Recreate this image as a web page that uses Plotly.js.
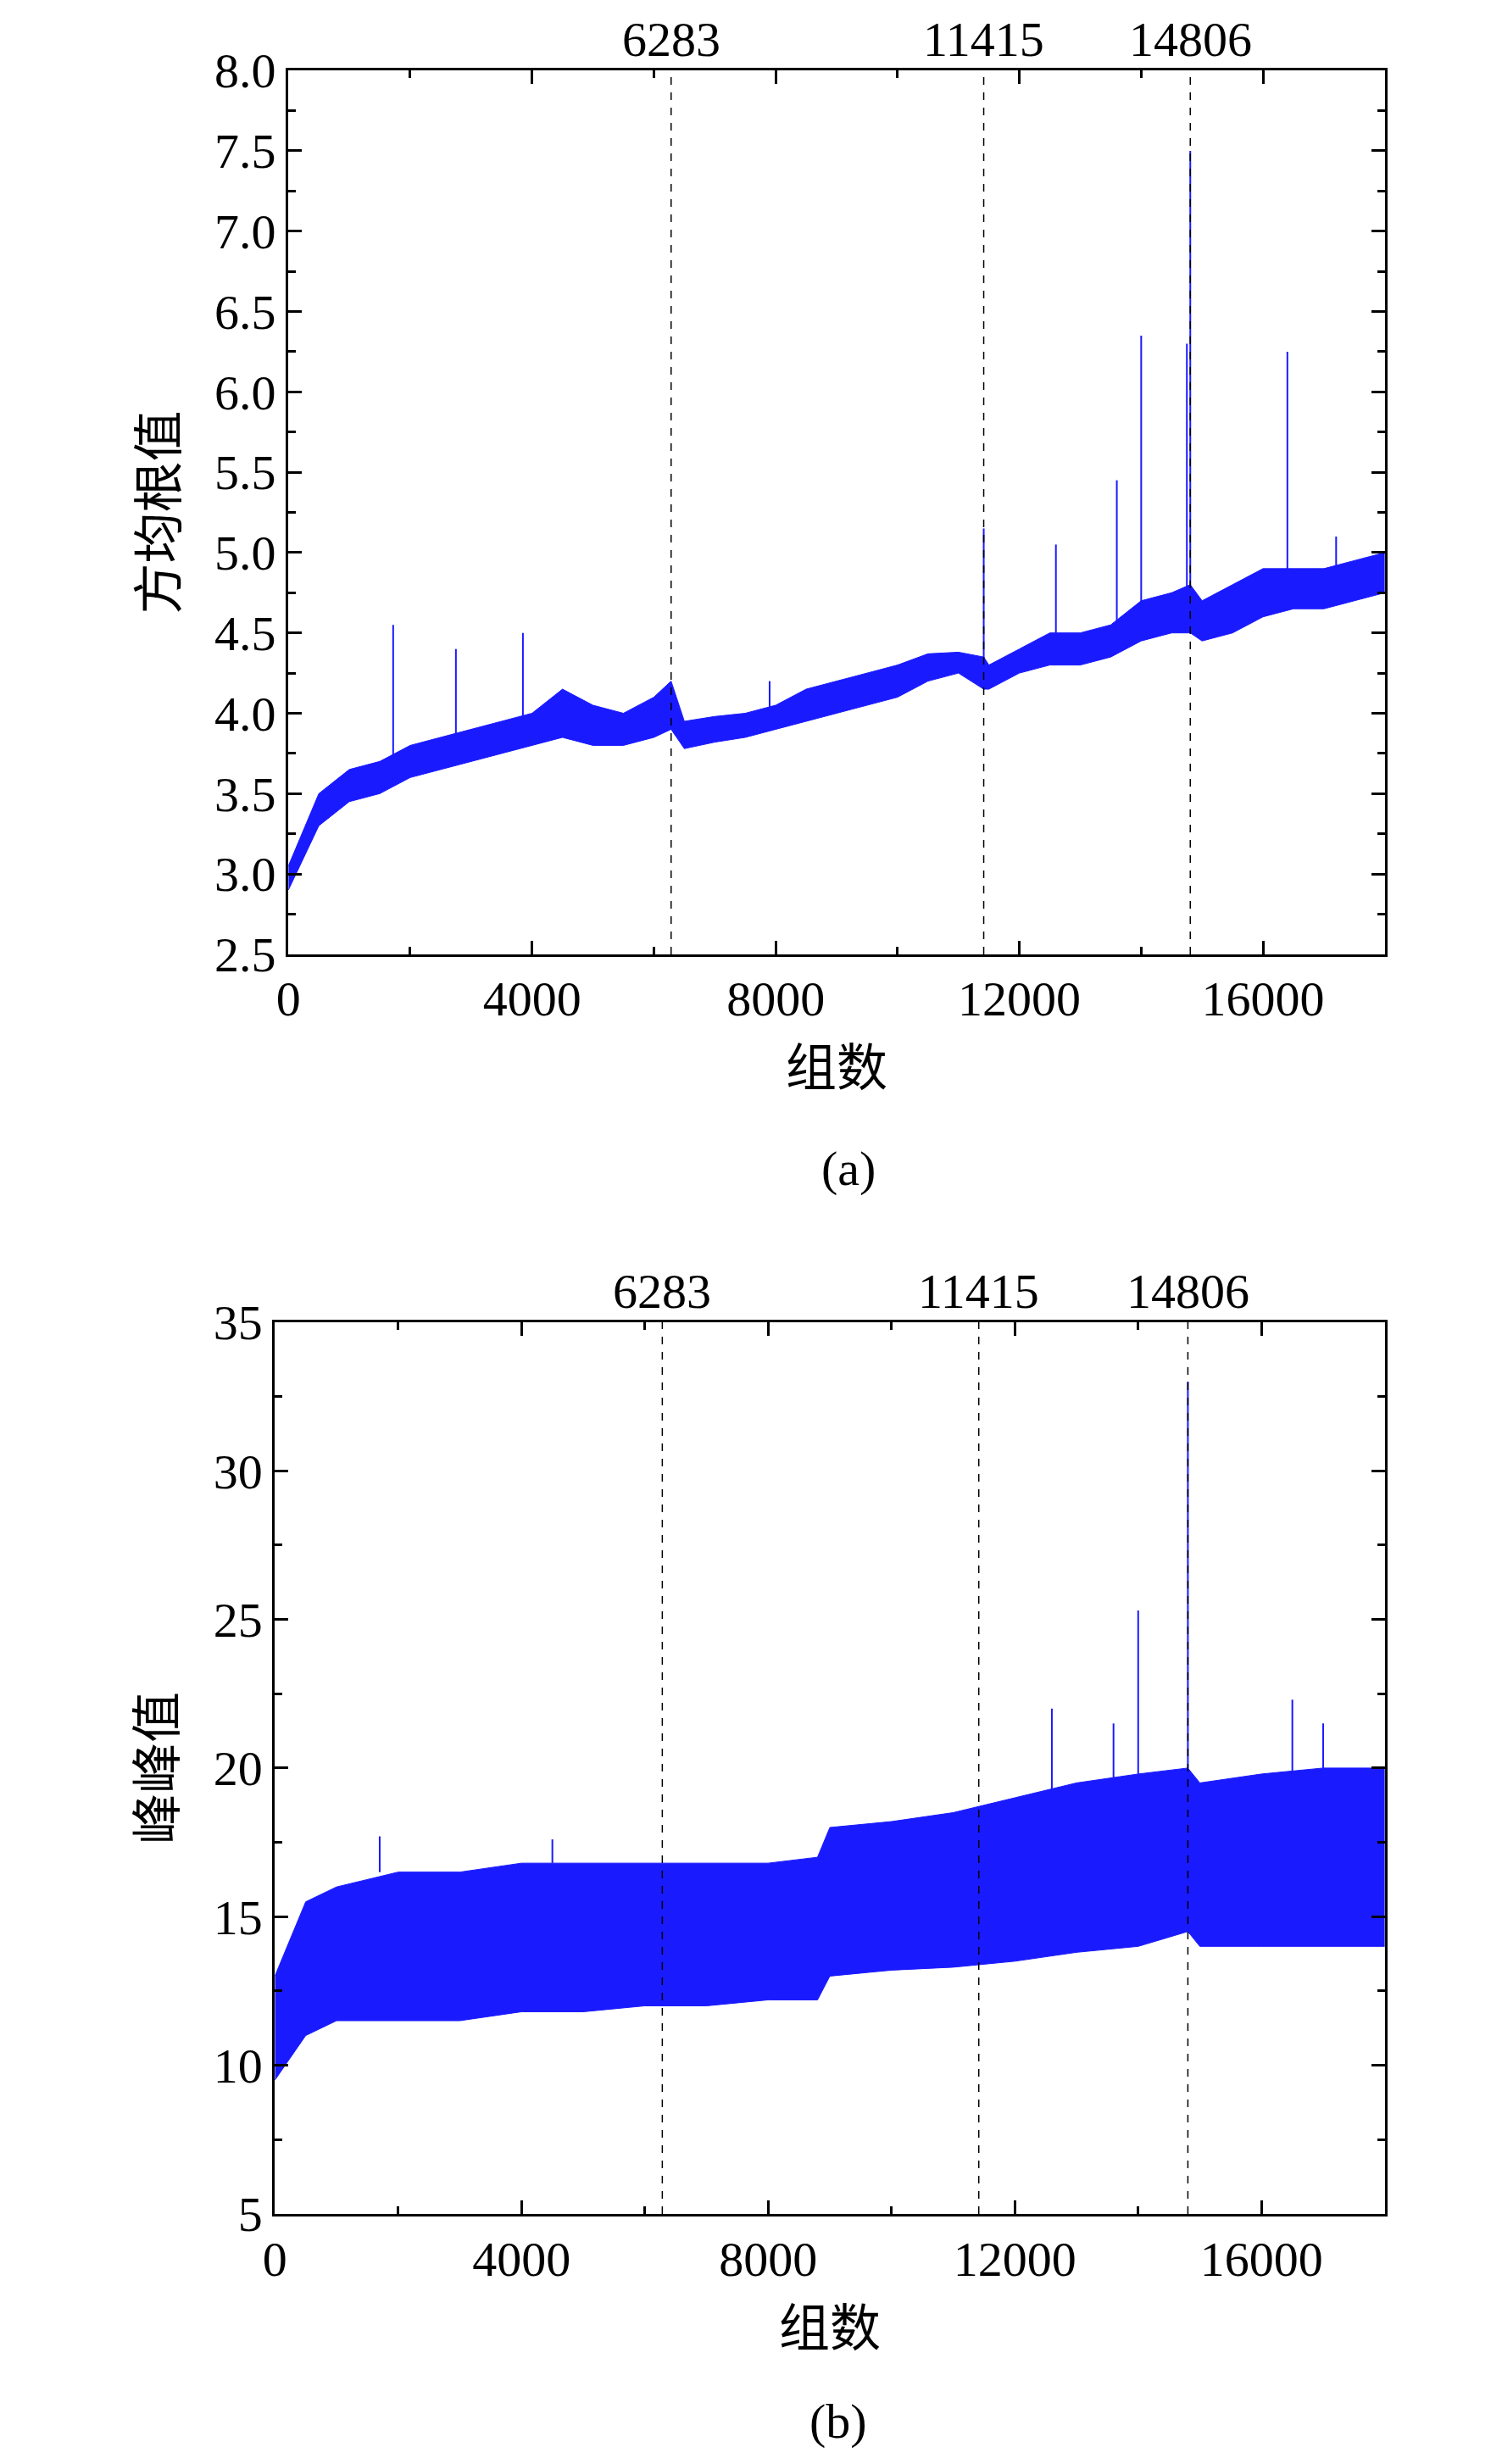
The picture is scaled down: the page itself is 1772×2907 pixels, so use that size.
<!DOCTYPE html>
<html>
<head>
<meta charset="utf-8">
<script src="https://cdn.plot.ly/plotly-3.0.1.min.js"></script>
<style>body{margin:0;background:#fff}#chart{width:1772px;height:2907px}</style>
</head>
<body>
<div id="chart"></div>
<script>
// (a) 方均根值 envelope
const xA = [0,500,1000,1500,2000,2500,3000,3500,4000,4500,5000,5500,6000,6283,6500,7000,7500,8000,8500,9000,9500,10000,10500,11000,11415,11500,12000,12500,13000,13500,14000,14500,14806,15000,15500,16000,16500,17000,17500,18000];
const loA = [2.9,3.3,3.45,3.5,3.6,3.65,3.7,3.75,3.8,3.85,3.8,3.8,3.85,3.9,3.78,3.82,3.85,3.9,3.95,4.0,4.05,4.1,4.2,4.25,4.15,4.15,4.25,4.3,4.3,4.35,4.45,4.5,4.5,4.45,4.5,4.6,4.65,4.65,4.7,4.75];
const hiA = [3.05,3.5,3.65,3.7,3.8,3.85,3.9,3.95,4.0,4.15,4.05,4.0,4.1,4.2,3.95,3.98,4.0,4.05,4.15,4.2,4.25,4.3,4.37,4.38,4.35,4.3,4.4,4.5,4.5,4.55,4.7,4.75,4.8,4.7,4.8,4.9,4.9,4.9,4.95,5.0];
const spikeXA = [1720,2750,3850,7900,11415,12600,13600,14000,14750,14806,16400,17200];
const spikeBaseA = [3.7,3.85,3.95,4.0,4.3,4.45,4.5,4.6,4.7,4.75,4.85,4.9];
const spikeTopA = [4.55,4.4,4.5,4.2,5.15,5.05,5.45,6.35,6.3,7.5,6.25,5.1];

// (b) 峰峰值 envelope
const xB = [0,500,1000,2000,3000,4000,5000,6000,7000,8000,8800,9000,10000,11000,12000,13000,14000,14806,15000,16000,17000,18000];
const loB = [9.5,11,11.5,11.5,11.5,11.8,11.8,12,12,12.2,12.2,13,13.2,13.3,13.5,13.8,14,14.5,14,14,14,14];
const hiB = [13,15.5,16,16.5,16.5,16.8,16.8,16.8,16.8,16.8,17,18,18.2,18.5,19,19.5,19.8,20,19.5,19.8,20,20];
const spikeXB = [1700,4500,12600,13600,14000,14806,16500,17000];
const spikeBaseB = [16.5,16.8,19,19.5,19.8,20,19.8,20];
const spikeTopB = [17.7,17.6,22,21.5,25.3,33,22.3,21.5];

const marks = [6283, 11415, 14806];
const blue = '#1a1aff';

function spikes(xs, base, top, xa, ya) {
  const x = [], y = [];
  xs.forEach((v, i) => { x.push(v, v, null); y.push(base[i], top[i], null); });
  return {x, y, xaxis: xa, yaxis: ya, mode: 'lines', line: {color: blue, width: 2}, showlegend: false, hoverinfo: 'skip'};
}
function band(xs, lo, hi, xa, ya) {
  return [
    {x: xs, y: lo, xaxis: xa, yaxis: ya, mode: 'lines', line: {color: blue, width: 1}, showlegend: false},
    {x: xs, y: hi, xaxis: xa, yaxis: ya, mode: 'lines', fill: 'tonexty', fillcolor: blue, line: {color: blue, width: 1}, showlegend: false}
  ];
}

const data = [
  ...band(xA, loA, hiA, 'x', 'y'), spikes(spikeXA, spikeBaseA, spikeTopA, 'x', 'y'),
  ...band(xB, loB, hiB, 'x2', 'y2'), spikes(spikeXB, spikeBaseB, spikeTopB, 'x2', 'y2')
];

const tickF = {family: 'Liberation Serif, Times New Roman, serif', size: 58, color: '#000'};
const cjk = {family: 'Noto Sans CJK SC, sans-serif', size: 60, color: '#000'};
const axBase = {showgrid: false, zeroline: false, showline: true, linecolor: '#000', linewidth: 3, mirror: 'ticks',
  ticks: 'inside', ticklen: 16, tickwidth: 3, tickcolor: '#000', tickfont: tickF,
  minor: {ticks: 'inside', ticklen: 9, tickwidth: 3, tickcolor: '#000'}};
const xAx = (dom, anchor) => Object.assign({}, axBase, {domain: dom, anchor, range: [0, 18000], dtick: 4000, tick0: 0,
  tickformat: 'd', minor: Object.assign({}, axBase.minor, {dtick: 2000}), title: {text: '组数', font: cjk, standoff: 14}});

const shapes = [], annotations = [];
marks.forEach(m => {
  [['x', 'y'], ['x2', 'y2']].forEach(([xa, ya]) => {
    shapes.push({type: 'line', xref: xa, yref: ya + ' domain', x0: m, x1: m, y0: 0, y1: 1, line: {color: '#000', width: 1.5, dash: 'dash'}});
    annotations.push({xref: xa, yref: ya + ' domain', x: m, y: 1, yanchor: 'bottom', yshift: 2, text: String(m), showarrow: false, font: tickF});
  });
});
annotations.push({xref: 'paper', yref: 'paper', x: 0.565, y: 1 - 1378 / 2907, yanchor: 'middle', text: '(a)', showarrow: false, font: tickF});
annotations.push({xref: 'paper', yref: 'paper', x: 0.558, y: 1 - 2856 / 2907, yanchor: 'middle', text: '(b)', showarrow: false, font: tickF});

const layout = {
  width: 1772, height: 2907, margin: {l: 0, r: 0, t: 0, b: 0},
  paper_bgcolor: '#fff', plot_bgcolor: '#fff',
  xaxis: xAx([0.192, 0.922], 'y'),
  yaxis: Object.assign({}, axBase, {domain: [0.6127, 0.9714], anchor: 'x', range: [2.5, 8.0], dtick: 0.5, tick0: 2.5, tickformat: '.1f',
    minor: Object.assign({}, axBase.minor, {dtick: 0.25}), title: {text: '方均根值', font: cjk, standoff: 25}}),
  xaxis2: xAx([0.183, 0.922], 'y2'),
  yaxis2: Object.assign({}, axBase, {domain: [0.1015, 0.4634], anchor: 'x2', range: [5, 35], dtick: 5, tick0: 5,
    minor: Object.assign({}, axBase.minor, {dtick: 2.5}), title: {text: '峰峰值', font: cjk, standoff: 25}}),
  shapes, annotations
};
Plotly.newPlot('chart', data, layout, {staticPlot: true});
</script>
</body>
</html>
